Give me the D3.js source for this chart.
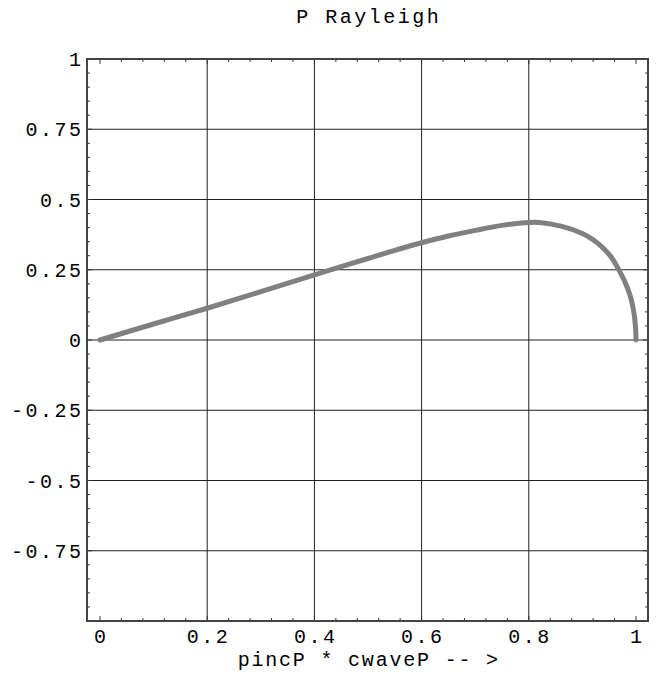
<!DOCTYPE html>
<html>
<head>
<meta charset="utf-8">
<script src="https://cdn.jsdelivr.net/npm/d3@7"></script>
<style>
  body { margin: 0; background: #fff; }
  text { font-family: "Liberation Mono", "Courier New", monospace; fill: #000; }
</style>
</head>
<body>
<svg id="chart" width="657" height="677"></svg>
<script>
// curve
var xs = [0, 0.1, 0.2, 0.3, 0.4, 0.5, 0.55, 0.6, 0.65, 0.7, 0.75, 0.8, 0.82, 0.86, 0.9, 0.92, 0.94, 0.955, 0.967, 0.979, 0.989, 0.995, 0.999, 1];
var ys = [0, 0.057, 0.113, 0.172, 0.232, 0.29, 0.319, 0.346, 0.37, 0.39, 0.408, 0.418, 0.418, 0.405, 0.379, 0.357, 0.325, 0.292, 0.253, 0.208, 0.158, 0.11, 0.05, 0];

var xTicks = [0, 0.2, 0.4, 0.6, 0.8, 1];
var xTickLabels = ['0', '0.2', '0.4', '0.6', '0.8', '1'];
var yTicks = [1, 0.75, 0.5, 0.25, 0, -0.25, -0.5, -0.75];
var yTickLabels = ['1', '0.75', '0.5', '0.25', '0', '-0.25', '-0.5', '-0.75'];
var xGrid = [0.2, 0.4, 0.6, 0.8];
var yGrid = [0.75, 0.5, 0.25, 0, -0.25, -0.5, -0.75];

var title = 'P Rayleigh';
var xTitle = 'pincP * cwaveP -- >';

(function() {
    var svg = d3.select('#chart');
    var pl = 87, pr = 648, pt = 59, pb = 621;

    var x = d3.scaleLinear().domain([0, 1]).range([100, 636]);
    var y = d3.scaleLinear().domain([-1, 1]).range([pb, pt]);

    var g = svg.append('g');

    // grid
    g.selectAll('line.vgrid').data(xGrid).enter().append('line')
        .attr('x1', function(d) { return x(d); }).attr('x2', function(d) { return x(d); })
        .attr('y1', pt).attr('y2', pb)
        .attr('stroke', '#222').attr('stroke-width', 1);
    g.selectAll('line.hgrid').data(yGrid).enter().append('line')
        .attr('x1', pl).attr('x2', pr)
        .attr('y1', function(d) { return y(d); }).attr('y2', function(d) { return y(d); })
        .attr('stroke', '#222').attr('stroke-width', 1);

    // minor/major ticks on all four sides, pointing inward
    var xMinor = d3.range(0, 26).map(function(i) { return i * 0.04; });
    var yMinor = d3.range(-19, 20).map(function(i) { return i * 0.05; });

    function isMajor(v, step) { return Math.abs(v / step - Math.round(v / step)) < 1e-6; }

    xMinor.forEach(function(v) {
        var len = isMajor(v, 0.2) ? 5 : 3;
        g.append('line').attr('x1', x(v)).attr('x2', x(v)).attr('y1', pb).attr('y2', pb - len)
            .attr('stroke', '#333');
        g.append('line').attr('x1', x(v)).attr('x2', x(v)).attr('y1', pt).attr('y2', pt + len)
            .attr('stroke', '#333');
    });
    yMinor.forEach(function(v) {
        var len = isMajor(v, 0.25) ? 5 : 3;
        g.append('line').attr('x1', pl).attr('x2', pl + len).attr('y1', y(v)).attr('y2', y(v))
            .attr('stroke', '#333');
        g.append('line').attr('x1', pr).attr('x2', pr - len).attr('y1', y(v)).attr('y2', y(v))
            .attr('stroke', '#333');
    });

    // frame
    g.append('rect')
        .attr('x', pl).attr('y', pt)
        .attr('width', pr - pl).attr('height', pb - pt)
        .attr('fill', 'none').attr('stroke', '#444').attr('stroke-width', 2);

    // curve
    var pts = xs.map(function(v, i) { return [v, ys[i]]; });
    var line = d3.line()
        .x(function(d) { return x(d[0]); })
        .y(function(d) { return y(d[1]); })
        .curve(d3.curveCatmullRom.alpha(0.5));

    g.append('path')
        .datum(pts)
        .attr('d', line)
        .attr('fill', 'none')
        .attr('stroke', '#808080')
        .attr('stroke-width', 5)
        .attr('stroke-linecap', 'round')
        .attr('stroke-linejoin', 'round');

    // tick labels
    var fs = 20, ls = 2.5;
    g.selectAll('text.xt').data(xTicks).enter().append('text')
        .attr('x', function(d) { return x(d) + ls / 2; })
        .attr('y', 643)
        .attr('text-anchor', 'middle')
        .style('font-size', fs + 'px')
        .style('letter-spacing', ls + 'px')
        .text(function(d, i) { return xTickLabels[i]; });

    g.selectAll('text.yt').data(yTicks).enter().append('text')
        .attr('x', 81 + ls)
        .attr('y', function(d) { return y(d) + 7; })
        .attr('text-anchor', 'end')
        .style('font-size', fs + 'px')
        .style('letter-spacing', ls + 'px')
        .text(function(d, i) { return yTickLabels[i]; });

    // titles
    svg.append('text')
        .attr('x', (pl + pr) / 2 + ls / 2).attr('y', 23)
        .attr('text-anchor', 'middle')
        .style('font-size', fs + 'px')
        .style('letter-spacing', ls + 'px')
        .text(title);

    svg.append('text')
        .attr('x', (pl + pr) / 2 + ls / 2).attr('y', 666)
        .attr('text-anchor', 'middle')
        .style('font-size', fs + 'px')
        .style('letter-spacing', '1.8px')
        .text(xTitle);
})();
</script>
</body>
</html>
